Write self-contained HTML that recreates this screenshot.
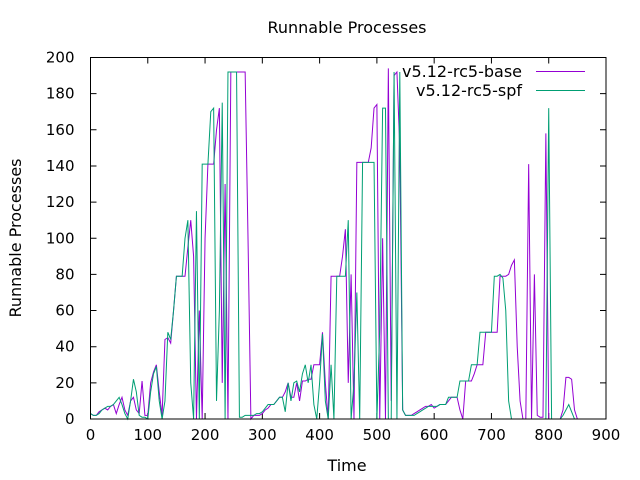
<!DOCTYPE html>
<html><head><meta charset="utf-8"><style>
html,body{margin:0;padding:0;background:#fff;}
svg{display:block;font-family:"DejaVu Sans","Liberation Sans",sans-serif;}
</style></head><body>
<svg id="chart" width="640" height="480" viewBox="0 0 640 480">
<rect width="640" height="480" fill="#fff"/>
<text x="347" y="33" font-size="16" text-anchor="middle">Runnable Processes</text>
<text x="347" y="471" font-size="16" text-anchor="middle">Time</text>
<text transform="translate(21,238) rotate(-90)" font-size="16" text-anchor="middle">Runnable Processes</text>
<g id="ticks"></g>
<g id="series"></g>
<rect x="90.5" y="57.5" width="515.5" height="361.5" fill="none" stroke="#000" stroke-width="1"/>
<g>
<text x="522" y="77" font-size="16" text-anchor="end">v5.12-rc5-base</text>
<line x1="536" y1="71.5" x2="585" y2="71.5" stroke="#9400d3" stroke-width="1"/>
<text x="522" y="96" font-size="16" text-anchor="end">v5.12-rc5-spf</text>
<line x1="536" y1="90.5" x2="585" y2="90.5" stroke="#009e73" stroke-width="1"/>
</g>
</svg>
<script>
const xTicks = [0,100,200,300,400,500,600,700,800,900];
const yTicks = [0,20,40,60,80,100,120,140,160,180,200];
const timeStep = 5;
const baseValues = [
3,2,2,4,5,6,5,7,8,3,
8,12,5,2,10,12,5,3,21,2,
2,20,26,30,15,2,44,45,42,60,
79,79,79,79,95,110,90,0,60,0,
100,141,141,141,160,172,20,130,0,192,
192,192,192,192,192,100,0,2,2,2,
3,5,6,8,8,10,12,12,15,20,
12,12,20,10,21,21,22,22,30,30,
30,48,20,0,79,79,79,79,90,105,
20,80,0,142,142,142,142,142,150,172,
174,0,100,0,194,10,190,192,150,5,
2,2,2,3,4,5,6,7,7,8,
6,7,8,8,8,10,12,12,12,5,
0,21,21,21,25,30,30,30,48,48,
48,48,48,79,79,79,80,85,88,40,
10,0,0,141,0,80,2,1,1,158,
0,0,0,0,0,5,23,23,22,5,
0];
const spfValues = [
3,2,2,3,5,6,7,7,8,10,
12,8,3,0,10,22,15,2,1,1,
0,15,25,29,10,0,10,48,44,60,
79,79,79,100,110,20,0,115,0,141,
141,141,170,172,10,60,175,0,192,192,
192,192,1,1,2,2,2,2,3,3,
4,6,8,8,8,10,12,12,4,20,
10,20,21,15,25,30,20,30,8,0,
20,47,10,0,30,0,79,79,79,79,
110,0,20,70,0,142,142,142,142,142,
0,50,172,172,0,0,192,0,192,5,
2,2,2,2,3,4,5,6,7,7,
7,7,8,8,8,12,12,12,12,21,
21,21,21,30,30,30,48,48,48,48,
48,79,79,80,78,60,10,0,0,0,
0,0,0,0,0,0,0,0,0,0,
172,0,0,0,0,2,5,8,4,0,
0];
const NS="http://www.w3.org/2000/svg";
const X0=90.5,X1=606,Y0=419,Y1=57.5;
function xs(t){return X0+(t-0)/900*(X1-X0);}
function ys(v){return Y0-(v/200)*(Y0-Y1);}
const tg=document.getElementById('ticks');
xTicks.forEach(function(t){
  const x=xs(t);
  const l1=document.createElementNS(NS,'path');
  l1.setAttribute('d','M'+x+' '+Y0+'v-6M'+x+' '+Y1+'v6');
  l1.setAttribute('stroke','#000');
  
  
  tg.appendChild(l1);
  const tx=document.createElementNS(NS,'text');
  tx.setAttribute('x',x);tx.setAttribute('y',Y0+21);
  tx.setAttribute('font-size','15');tx.setAttribute('text-anchor','middle');
  tx.textContent=t;
  
  
  tg.appendChild(tx);
});
yTicks.forEach(function(v){
  const y=ys(v);
  const l1=document.createElementNS(NS,'path');
  l1.setAttribute('d','M'+X0+' '+y+'h6M'+X1+' '+y+'h-6');
  l1.setAttribute('stroke','#000');
  
  
  tg.appendChild(l1);
  const tx=document.createElementNS(NS,'text');
  tx.setAttribute('x',X0-16);tx.setAttribute('y',y+5);
  tx.setAttribute('font-size','15');tx.setAttribute('text-anchor','end');
  tx.textContent=v;
  
  
  tg.appendChild(tx);
});
const sg=document.getElementById('series');
function line(vals,color,name){
  let d='';
  vals.forEach(function(v,i){d+=(i?'L':'M')+xs(i*timeStep).toFixed(2)+' '+ys(v).toFixed(2);});
  const p=document.createElementNS(NS,'path');
  p.setAttribute('d',d);p.setAttribute('fill','none');
  p.setAttribute('stroke',color);p.setAttribute('stroke-width','1');
  
  
  sg.appendChild(p);
}
line(baseValues,'#9400d3','series-v5-12-rc5-base');
line(spfValues,'#009e73','series-v5-12-rc5-spf');
</script>
</body></html>
